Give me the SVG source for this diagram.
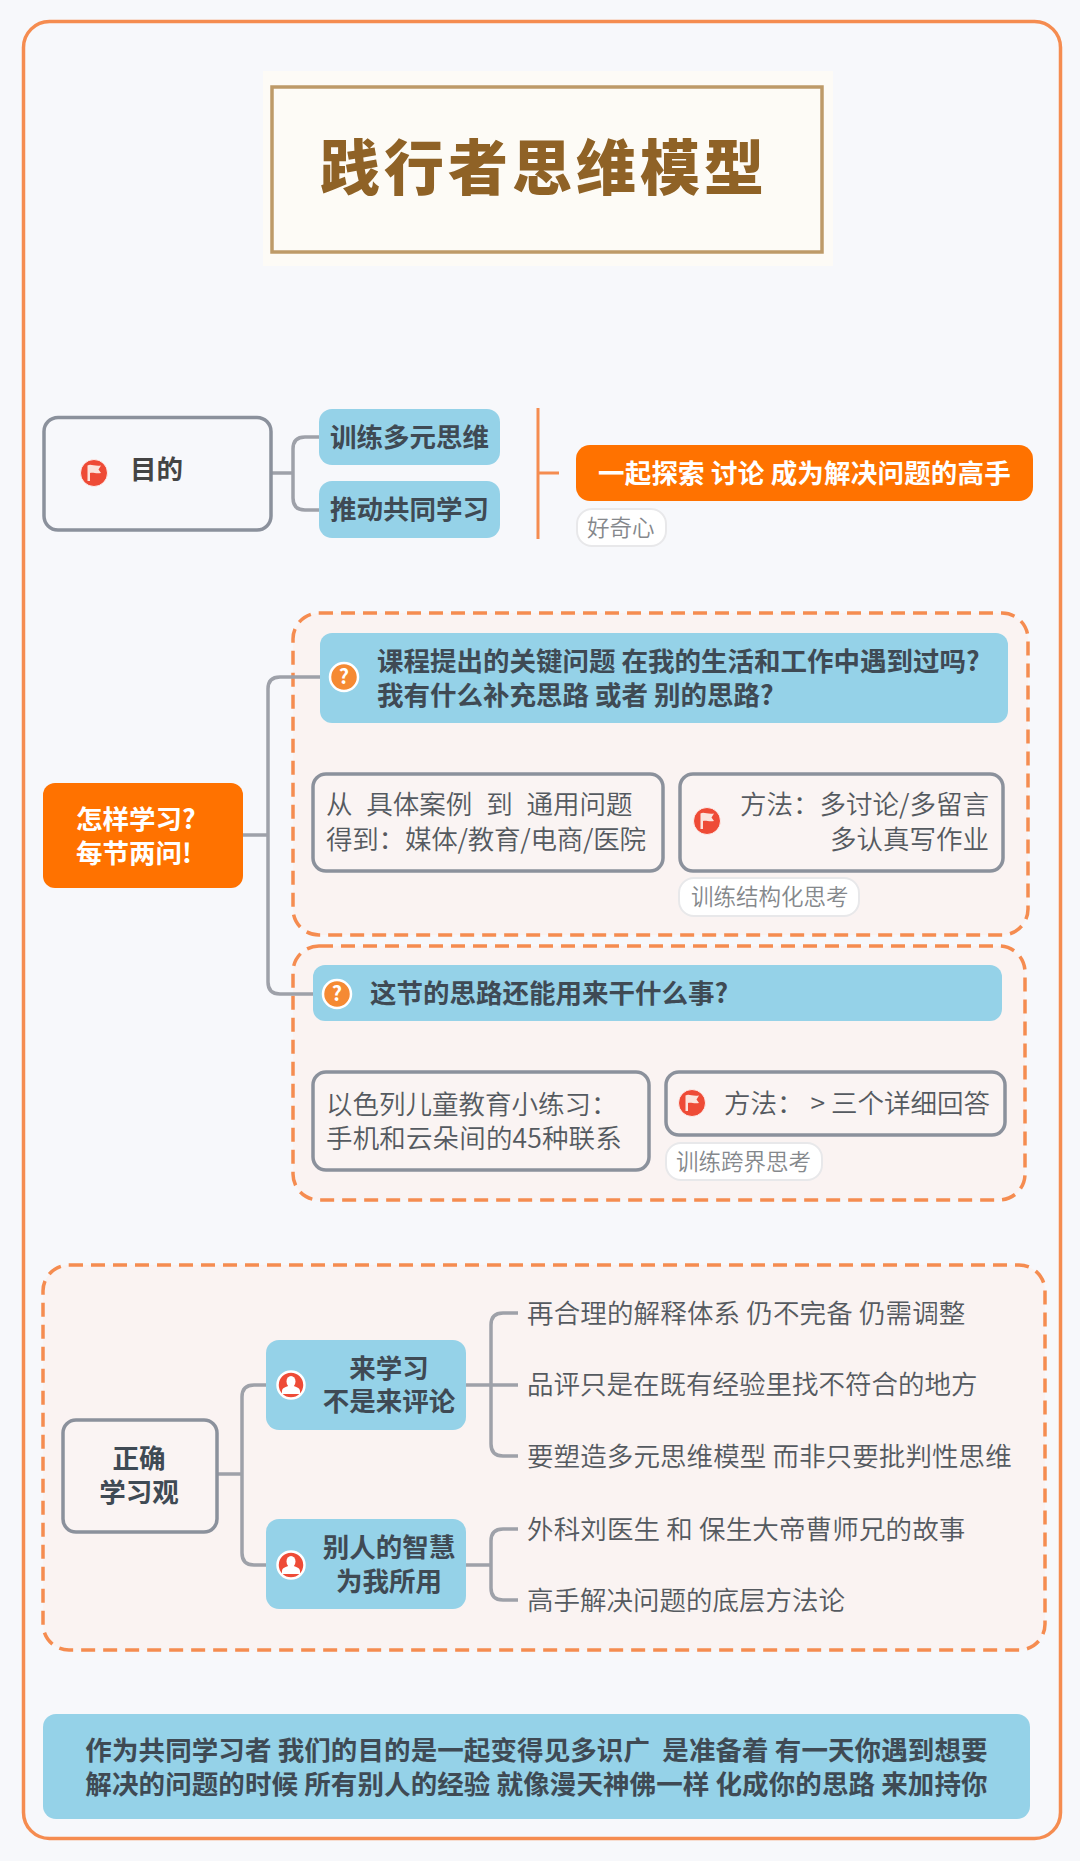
<svg xmlns="http://www.w3.org/2000/svg" width="1080" height="1861" viewBox="0 0 1080 1861">
<style>
text{font-family:"Noto Sans CJK SC","Noto Sans",sans-serif;font-size:26.5px;white-space:pre}
.b{font-weight:700;fill:#3f4a54}
.n{font-weight:350;fill:#555a60}
.w{font-weight:700;fill:#fff}
.t{font-weight:350;fill:#85888c;font-size:22.5px}
.blue{fill:#95d2e8}
.org{fill:#ff7200}
.box{fill:#faf4f3;stroke:#8b919c;stroke-width:3.5}
.tag{fill:#fff;stroke:#e8e8ea;stroke-width:2}
.dash{fill:#faf3f2;stroke:#f58c50;stroke-width:3.5;stroke-dasharray:14 8}
.c{fill:none;stroke:#9ea1a9;stroke-width:3.5}
.o{fill:none;stroke:#f58c50;stroke-width:3}
.m{text-anchor:middle}
.e{text-anchor:end}
</style>
<defs>
<g id="flag"><circle r="13.500" fill="#ee4b36" stroke="#fff" stroke-width="0.800"/><path d="M-6.500-7.500C-3-9.500 0-6.500 7-7.500L4.500-3.500 7 0C2 1-1-1-4 0V8H-6.500Z" fill="#fbe4dc"/></g>
<g id="person"><circle r="13.500" fill="#ee4b36" stroke="#fff" stroke-width="2.500"/><ellipse cy="-3.500" rx="4.500" ry="5.500" fill="#fff"/><path d="M-9 9V6C-9 3-5 2-3 1H3C5 2 9 3 9 6V9Z" fill="#fff"/></g>
<g id="ask"><circle r="14" fill="#f58a33" stroke="#fff" stroke-width="2.500"/><text y="7" class="m" style="font-size:20px;font-weight:700;fill:#fff">?</text></g>
</defs>
<rect width="1080" height="1861" fill="#f7f8fb"/>
<rect x="23.500" y="21.500" width="1037" height="1817" rx="26" fill="#f7f8fb" stroke="#f58c50" stroke-width="3.500"/>

<g id="title">
<rect x="263" y="71" width="570" height="195" fill="#fdfbf6"/>
<rect x="272" y="87" width="550" height="165" fill="none" stroke="#bd9a68" stroke-width="3.500"/>
<text x="320" y="190" style="font-size:60px;font-weight:900;fill:#8f6226;letter-spacing:4px">践行者思维模型</text>
</g>

<g id="dash-boxes">
<rect class="dash" x="293" y="613" width="735" height="322" rx="26"/>
<rect class="dash" x="293" y="946" width="732" height="254" rx="26"/>
<rect class="dash" x="43" y="1265" width="1002" height="385" rx="26"/>
</g>

<g id="connectors">
<path class="c" d="M271 473H293M319 437H305Q293 437 293 449V498Q293 510 305 510H319"/>
<path class="o" d="M538 408V539M538 473H559"/>
<path class="c" d="M242 835H268M321 677H280Q268 677 268 689V982Q268 994 280 994H313"/>
<path class="c" d="M218 1474H242M266 1385H254Q242 1385 242 1397V1553Q242 1565 254 1565H266"/>
<path class="c" d="M466 1385H518M518 1313H503Q491 1313 491 1325V1444Q491 1456 503 1456H518"/>
<path class="c" d="M466 1565H491M518 1529H503Q491 1529 491 1541V1588Q491 1600 503 1600H518"/>
</g>

<g id="n-goal"><rect class="box" style="fill:#f7f8fb" x="44" y="417.500" width="227" height="112.500" rx="14"/><use href="#flag" x="94" y="473"/><text class="b" x="130" y="479" style="fill:#444">目的</text></g>
<g id="n-goal-1"><rect class="blue" x="319" y="409" width="181" height="56" rx="13"/><text class="b" x="330" y="447">训练多元思维</text></g>
<g id="n-goal-2"><rect class="blue" x="319" y="481" width="181" height="57" rx="13"/><text class="b" x="330" y="519">推动共同学习</text></g>
<g id="n-explore"><rect class="org" x="576" y="445" width="457" height="56" rx="14"/><text class="w" x="598" y="483" style="letter-spacing:.2px">一起探索 讨论 成为解决问题的高手</text></g>
<g id="t-curious"><rect class="tag" x="577" y="509" width="89" height="37" rx="15"/><text class="t" x="587" y="536">好奇心</text></g>

<g id="n-how"><rect class="org" x="43" y="783" width="200" height="105" rx="12"/><text class="w"><tspan x="76" y="829">怎样学习?</tspan><tspan x="76" y="863">每节两问!</tspan></text></g>

<g id="n-q1"><rect class="blue" x="320" y="633" width="688" height="90" rx="12"/><use href="#ask" x="344" y="677"/><text class="b"><tspan x="377" y="671">课程提出的关键问题 在我的生活和工作中遇到过吗?</tspan><tspan x="377" y="705">我有什么补充思路 或者 别的思路?</tspan></text></g>
<g id="n-case"><rect class="box" x="313" y="774" width="350" height="97" rx="13"/><text class="n"><tspan x="326" y="814" style="word-spacing:1px">从  具体案例  到  通用问题</tspan><tspan x="326" y="849" style="letter-spacing:-.2px">得到：媒体/教育/电商/医院</tspan></text></g>
<g id="n-method1"><rect class="box" x="680" y="774" width="323" height="97" rx="13"/><use href="#flag" x="707" y="821"/><text class="n e"><tspan x="989" y="814">方法：多讨论/多留言</tspan><tspan x="989" y="849">多认真写作业</tspan></text></g>
<g id="t-struct"><rect class="tag" x="679" y="878" width="180" height="38" rx="15"/><text class="t" x="691" y="905">训练结构化思考</text></g>

<g id="n-q2"><rect class="blue" x="313" y="965" width="689" height="56" rx="12"/><use href="#ask" x="337" y="994"/><text class="b" x="370" y="1003">这节的思路还能用来干什么事?</text></g>
<g id="n-israel"><rect class="box" x="313" y="1072" width="336" height="98" rx="13"/><text class="n"><tspan x="326" y="1114">以色列儿童教育小练习：</tspan><tspan x="326" y="1148" style="letter-spacing:.15px">手机和云朵间的45种联系</tspan></text></g>
<g id="n-method2"><rect class="box" x="666" y="1072" width="339" height="63" rx="13"/><use href="#flag" x="692" y="1103"/><text class="n" x="724" y="1113">方法：</text><text class="n e" x="990" y="1113">&gt; 三个详细回答</text></g>
<g id="t-cross"><rect class="tag" x="666" y="1143" width="156" height="37" rx="15"/><text class="t" x="676" y="1170">训练跨界思考</text></g>

<g id="n-view"><rect class="box" x="63" y="1420" width="154" height="112" rx="13"/><text class="b m"><tspan x="139" y="1468">正确</tspan><tspan x="139" y="1502">学习观</tspan></text></g>
<g id="n-learn"><rect class="blue" x="266" y="1340" width="200" height="90" rx="13"/><use href="#person" x="291" y="1385"/><text class="b m"><tspan x="389" y="1378">来学习</tspan><tspan x="389" y="1411">不是来评论</tspan></text></g>
<g id="n-wisdom"><rect class="blue" x="266" y="1519" width="200" height="90" rx="13"/><use href="#person" x="291" y="1565"/><text class="b m"><tspan x="389" y="1557">别人的智慧</tspan><tspan x="389" y="1591">为我所用</tspan></text></g>

<g id="l-1"><text class="n" x="527" y="1323" style="letter-spacing:.15px">再合理的解释体系 仍不完备 仍需调整</text></g>
<g id="l-2"><text class="n" x="527" y="1394">品评只是在既有经验里找不符合的地方</text></g>
<g id="l-3"><text class="n" x="527" y="1466" style="letter-spacing:.1px">要塑造多元思维模型 而非只要批判性思维</text></g>
<g id="l-4"><text class="n" x="527" y="1539" style="letter-spacing:.15px">外科刘医生 和 保生大帝曹师兄的故事</text></g>
<g id="l-5"><text class="n" x="527" y="1610">高手解决问题的底层方法论</text></g>

<g id="n-summary"><rect class="blue" x="43" y="1714" width="987" height="105" rx="13"/><text class="b m" style="letter-spacing:.1px"><tspan x="536.500" y="1760">作为共同学习者 我们的目的是一起变得见多识广  是准备着 有一天你遇到想要</tspan><tspan x="536.500" y="1794">解决的问题的时候 所有别人的经验 就像漫天神佛一样 化成你的思路 来加持你</tspan></text></g>
</svg>
